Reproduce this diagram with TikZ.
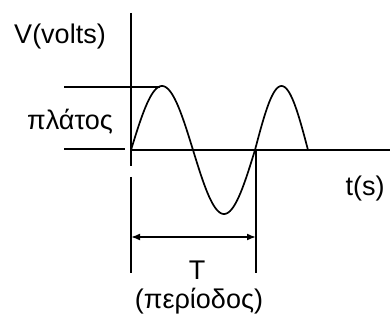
\documentclass[tikz,border=0pt]{standalone}
\usepackage{fontspec}
\setmainfont{Liberation Sans}
\usetikzlibrary{arrows.meta}
\begin{document}
\begin{tikzpicture}[x=1pt, y=-1pt, >={Latex[length=9pt,width=7pt]},
    line width=1.7pt,
    lbl/.style={font=\fontsize{27}{30}\selectfont, inner sep=0pt}]

    \useasboundingbox (0,0) rectangle (390,320);

    %% axes
    \coordinate (o) at (131,150);
    \coordinate (vtop) at (131,13);
    \coordinate (vbot) at (131,166);
    \coordinate (hend) at (390,150);
    \draw (vtop) -- (vbot);
    \draw (o) -- (hend);

    %% amplitude marks
    \coordinate (ampa) at (64,87);
    \coordinate (ampb) at (160,87);
    \coordinate (zeroa) at (64,149);
    \coordinate (zerob) at (125,149);
    \draw (ampa) -- (ampb);
    \draw (zeroa) -- (zerob);

    %% voltage  V(t) = sin
    \draw[domain=131:255, samples=120]
      plot (\x, {150 - 64*sin(2.9032*(\x-131))});
    \draw[domain=255:308, samples=60]
      plot (\x, {150 - 64*sin(3.3962*(\x-255))});

    %% period
    \coordinate (pla) at (131,177);
    \coordinate (plb) at (131,273);
    \coordinate (pra) at (256,150);
    \coordinate (prb) at (256,273);
    \draw (pla) -- (plb);
    \draw (pra) -- (prb);
    \coordinate (arra) at (131,237);
    \coordinate (arrb) at (256,237);
    \draw[<->] (arra) -- (arrb);

    %% labels
    \node[lbl] (vlabel) at (60,37) {V(volts)};
    \node[lbl] (amp) at (70,122) {πλάτος};
    \node[lbl] (tlabel) at (365,189) {t(s)};
    \node[lbl] (per) at (197,270) {T};
    \node[lbl] (pername) at (199,301) {(περίοδος)};
\end{tikzpicture}
\end{document}
